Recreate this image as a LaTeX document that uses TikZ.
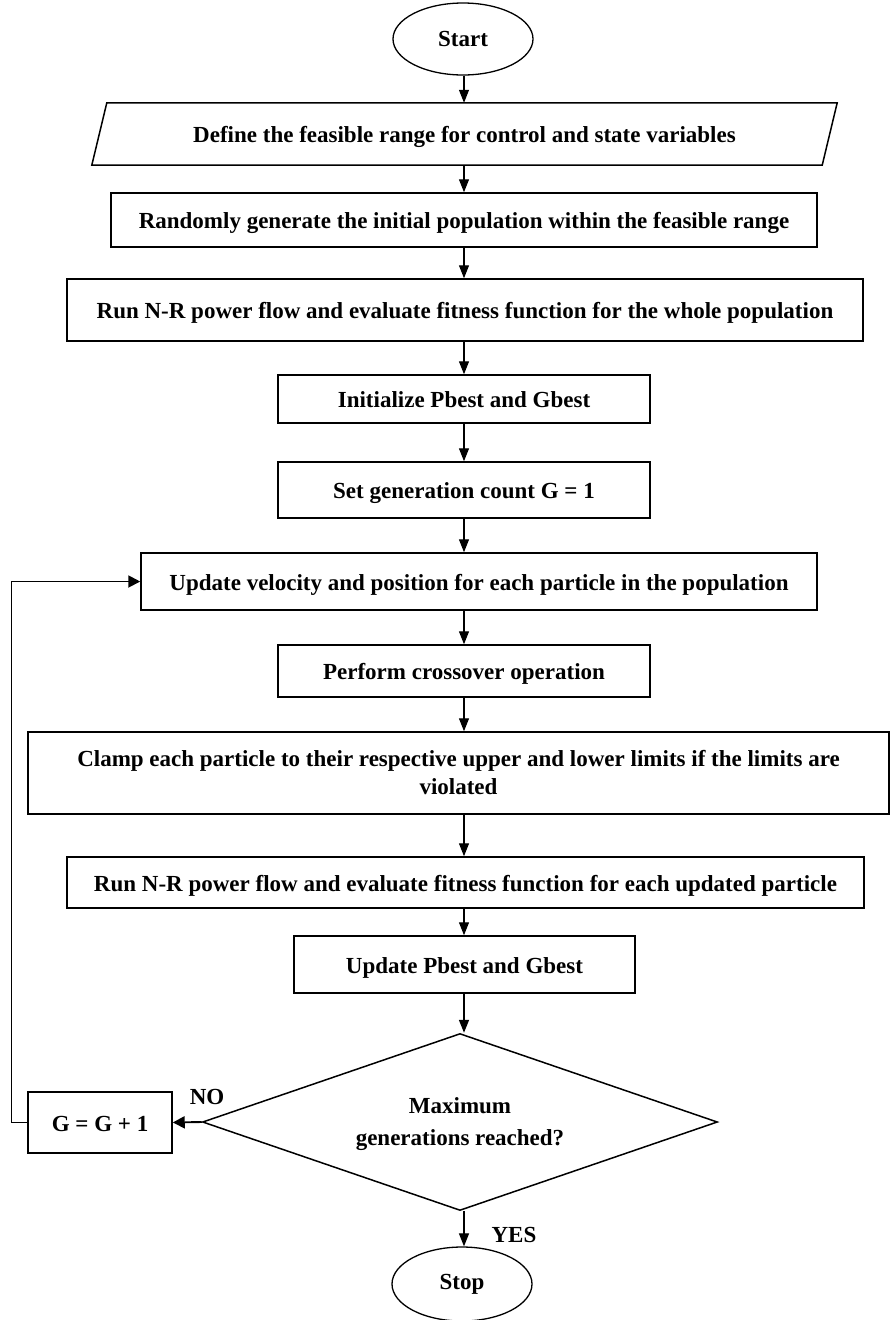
\documentclass[tikz,border=0pt]{standalone}
\usepackage{fontspec}
\setmainfont{Liberation Serif}
\usetikzlibrary{shapes.geometric,arrows.meta}
\begin{document}
\begin{tikzpicture}[x=1pt,y=-1pt,
  every node/.style={font=\fontsize{23}{28}\selectfont\bfseries, inner sep=0pt},
  oneline/.style={text height=17pt, text depth=0pt},
  proc/.style={draw, line width=1.5pt, rectangle},
  boxline/.style={draw, line width=1.5pt, line join=miter},
  term/.style={draw, ellipse, line width=1.3pt},
  dec/.style={draw, diamond, line width=1.5pt, aspect=2.9},
  arr/.style={-{Triangle[length=13pt,width=10pt]}, line width=1.2pt},
  thickarr/.style={-{Triangle[length=12pt,width=12pt]}, line width=1.9pt},
  loopline/.style={line width=1pt}
]
\useasboundingbox (0,0) rectangle (890,1320);
\coordinate (col) at (464,0);

\node[term, minimum width=140pt, minimum height=72pt] (start) at (463,39) {Start};
\node[oneline, minimum width=730pt, minimum height=62pt] (define) at (464.5,134) {Define the feasible range for control and state variables};
\draw[boxline] ([xshift=-7.5pt]define.south west) -- ([xshift=7.5pt]define.north west) -- ([xshift=7.5pt]define.north east) -- ([xshift=-7.5pt]define.south east) -- cycle;
\node[proc, oneline, minimum width=706pt, minimum height=54pt] (random) at (464,220) {Randomly generate the initial population within the feasible range};
\node[proc, oneline, minimum width=796pt, minimum height=62pt] (runnr) at (465,310) {Run N-R power flow and evaluate fitness function for the whole population};
\node[proc, oneline, minimum width=372pt, minimum height=48pt] (init) at (464,399) {Initialize Pbest and Gbest};
\node[proc, oneline, minimum width=372pt, minimum height=56pt] (setg) at (464,490) {Set generation count G = 1};
\node[proc, oneline, minimum width=676pt, minimum height=57pt] (update) at (479,581.5) {Update velocity and position for each particle in the population};
\node[proc, oneline, minimum width=372pt, minimum height=52pt] (cross) at (464,671) {Perform crossover operation};
\node[proc, minimum width=861pt, minimum height=82pt, align=center] (clamp) at (458.5,773) {Clamp each particle to their respective upper and lower limits if the limits are\\violated};
\node[proc, oneline, minimum width=797pt, minimum height=51pt] (runnr2) at (465.5,882.5) {Run N-R power flow and evaluate fitness function for each updated particle};
\node[proc, oneline, minimum width=341pt, minimum height=57pt] (updbest) at (464.5,964.5) {Update Pbest and Gbest};
\node[dec, minimum width=515pt, minimum height=177pt, align=center] (maxg) at (460,1122) {\rule{0pt}{21pt}Maximum\\[4pt]generations reached?};
\node[proc, oneline, minimum width=144pt, minimum height=61pt] (ginc) at (100,1122.5) {G = G + 1};
\node[term, minimum width=140pt, minimum height=74pt] (stop) at (462,1284) {Stop};
\node (no) at (207,1097) {NO};
\node (yes) at (514,1235) {YES};

\draw[arr] (col |- start.south) -- (col |- define.north);
\draw[arr] (col |- define.south) -- (col |- random.north);
\draw[arr] (col |- random.south) -- (col |- runnr.north);
\draw[arr] (col |- runnr.south) -- (col |- init.north);
\draw[arr] (col |- init.south) -- (col |- setg.north);
\draw[arr] (col |- setg.south) -- (col |- update.north);
\draw[arr] (col |- update.south) -- (col |- cross.north);
\draw[arr] (col |- cross.south) -- (col |- clamp.north);
\draw[arr] (col |- clamp.south) -- (col |- runnr2.north);
\draw[arr] (col |- runnr2.south) -- (col |- updbest.north);
\draw[arr, line width=1.6pt] (col |- updbest.south) -- (col |- maxg.north);
\draw[arr] (col |- maxg.south) -- (col |- stop.north);
\draw[thickarr] (maxg.west) -- (ginc.east);
\coordinate (lc) at (11,581.5);
\draw[loopline] (ginc.west) -| (lc);
\draw[thickarr] (lc) -- (update.west);
\end{tikzpicture}
\end{document}
